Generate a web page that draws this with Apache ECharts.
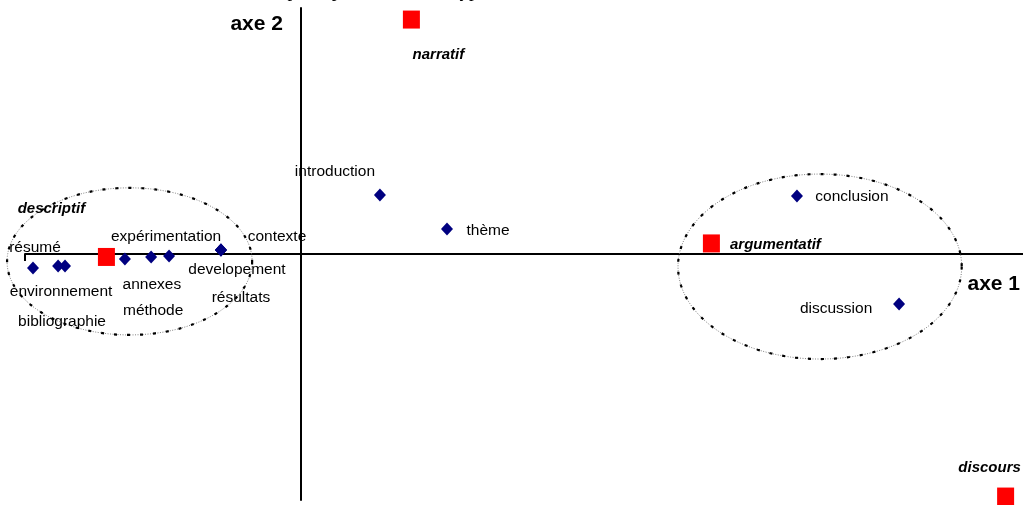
<!DOCTYPE html>
<html>
<head>
<meta charset="utf-8">
<script src="https://cdn.jsdelivr.net/npm/echarts@6/dist/echarts.min.js"></script>
<style>
html,body{margin:0;padding:0;background:#fff;}
#chart{width:1023px;height:505px;}
</style>
</head>
<body>
<div id="chart"></div>
<script>
// ---- data ----
const titleText = 'Plan principal : sections et types de discours';
const axisNames = ['axe 1', 'axe 2'];

const partNames = ['résumé','environnement','bibliographie','annexes','méthode','expérimentation','contexte','developement','résultats','introduction','thème','conclusion','discussion'];
const partX = [-0.971,-0.880,-0.855,-0.638,-0.543,-0.478,-0.290,-0.290,-0.290,0.286,0.529,1.797,2.167];
const partY = [-0.057,-0.049,-0.049,-0.020,-0.012,-0.008,0.016,0.016,0.016,0.240,0.102,0.236,-0.203];

const typeNames = ['narratif','descriptif','argumentatif','discours'];
const typeX = [0.400,-0.705,1.487,2.553];
const typeY = [0.953,-0.012,0.043,-0.986];

// ellipses: centre x, centre y, radius x, radius y (axis units)
const ellipseCX = [-0.621, 1.880];
const ellipseCY = [-0.030, -0.051];
const ellipseRX = [0.444, 0.514];
const ellipseRY = [0.299, 0.376];

// ---- label placement (px offsets from the mark) ----
const partLabelOffset = [[2,-20],[3,26],[-3,56],[27,26],[2,54],[-3,-19],[56,-13],[16,20],[20,48],[-45,-23],[41,2],[55,1],[-63,5]];
const typeLabelOffset = [[27,35],[-55,-48],[64,1],[-16,-29]];

const SANS = '"Liberation Sans", Arial, sans-serif';

const partData = partNames.map((n, i) => ({
  name: n, value: [partX[i], partY[i]],
  label: { offset: partLabelOffset[i] }
}));
const typeData = typeNames.map((n, i) => ({
  name: n, value: [typeX[i], typeY[i]],
  label: { offset: typeLabelOffset[i] }
}));
const ellipseData = ellipseCX.map((c, i) => [c, ellipseCY[i], ellipseRX[i], ellipseRY[i]]);

const chart = echarts.init(document.getElementById('chart'), null, { renderer: 'canvas' });

chart.setOption({
  animation: false,
  backgroundColor: '#fff',
  grid: { left: 25, right: 0, top: 8, bottom: 5, containLabel: false },
  xAxis: {
    type: 'value', min: -1, max: 2.616,
    splitLine: { show: false },
    axisLabel: { show: false },
    axisTick: { show: true, customValues: [-1], length: 7, lineStyle: { color: '#000', width: 2 } },
    axisLine: { onZero: true, lineStyle: { color: '#000', width: 2 } },
    name: axisNames[0], nameLocation: 'end', nameGap: -3,
    nameTextStyle: { fontFamily: SANS, fontWeight: 'bold', fontSize: 21, color: '#000',
      align: 'right', verticalAlign: 'top', padding: [20, 0, 0, 0] }
  },
  yAxis: {
    type: 'value', min: -1, max: 1,
    splitLine: { show: false },
    axisLabel: { show: false },
    axisTick: { show: false },
    axisLine: { onZero: true, lineStyle: { color: '#000', width: 2 } },
    name: axisNames[1], nameLocation: 'end', nameGap: -16,
    nameTextStyle: { fontFamily: SANS, fontWeight: 'bold', fontSize: 21, color: '#000',
      align: 'right', verticalAlign: 'middle', padding: [0, 18, 0, 0] }
  },
  graphic: [{
    type: 'text', x: 249, y: -8, silent: true,
    style: { text: titleText, fontFamily: '"Liberation Serif", "Times New Roman", serif',
      fontSize: 19, fill: '#000', align: 'left', verticalAlign: 'middle' }
  }],
  series: [
    {
      type: 'custom', silent: true, clip: false, z: 1,
      data: ellipseData,
      renderItem: function (params, api) {
        const c = api.coord([api.value(0), api.value(1)]);
        const s = api.size([api.value(2), api.value(3)]);
        const pts = [];
        const N = 180;
        for (let k = 0; k < N; k++) {
          const t = (k / N) * Math.PI * 2;
          pts.push([c[0] + s[0] * Math.cos(t), c[1] + s[1] * Math.sin(t)]);
        }
        return {
          type: 'group',
          children: [
            { type: 'polygon', shape: { points: pts },
              style: { fill: 'none', stroke: '#808080', lineWidth: 1, lineDash: [1, 1.5] } },
            { type: 'polygon', shape: { points: pts },
              style: { fill: 'none', stroke: '#000', lineWidth: 2.2, lineDash: [3, 10] } }
          ]
        };
      }
    },
    {
      type: 'scatter', clip: false, z: 3,
      symbol: 'diamond', symbolSize: [12, 13],
      itemStyle: { color: '#000080', opacity: 1 },
      label: { show: true, position: 'inside', formatter: '{b}',
        fontFamily: SANS, fontSize: 15.5, color: '#000' },
      emphasis: { disabled: true },
      data: partData
    },
    {
      type: 'scatter', clip: false, z: 3,
      symbol: 'rect', symbolSize: [17, 18],
      itemStyle: { color: '#ff0000', opacity: 1 },
      label: { show: true, position: 'inside', formatter: '{b}',
        fontFamily: SANS, fontSize: 15, fontWeight: 'bold', fontStyle: 'italic', color: '#000' },
      emphasis: { disabled: true },
      data: typeData
    }
  ]
});
</script>
</body>
</html>
